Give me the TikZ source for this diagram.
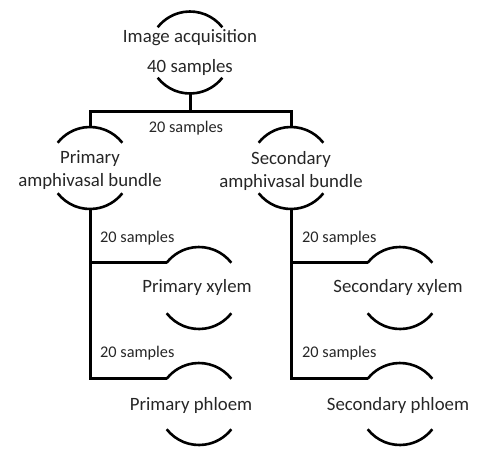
\documentclass[tikz,border=0pt]{standalone}
\usepackage{fontspec}
\setmainfont{Carlito}
\begin{document}
\begin{tikzpicture}[x=1pt,y=-1pt,
  lbl/.style={inner sep=0pt,font=\fontsize{18.8}{23}\selectfont,align=center,text=black!85},
  smp/.style={inner sep=0pt,font=\fontsize{16.3}{19}\selectfont,text=black!85},
  arcline/.style={line width=2.6pt},
  conn/.style={line width=3pt}]
\useasboundingbox (0,0) rectangle (477,448);
% arc pair around a centre
\newcommand{\arcpair}[1]{%
  \draw[arcline] ([shift={(38:41pt)}]#1) arc (38:142:41pt);
  \draw[arcline] ([shift={(218:41pt)}]#1) arc (218:322:41pt);
  \coordinate (#1top) at ([shift={(90:41pt)}]#1);
  \coordinate (#1bot) at ([shift={(270:41pt)}]#1);
  \coordinate (#1left) at ([shift={(142:41pt)}]#1);}
% centres
\coordinate (c0) at (190,52.5);
\coordinate (c1) at (90,168);
\coordinate (c2) at (291,168);
\coordinate (c3) at (199,288);
\coordinate (c4) at (199,404);
\coordinate (c5) at (400,288);
\coordinate (c6) at (400,404);
\arcpair{c0}\arcpair{c1}\arcpair{c2}\arcpair{c3}\arcpair{c4}\arcpair{c5}\arcpair{c6}
% texts
\node[lbl] (t0a) at (190,38) {Image acquisition};
\node[lbl] (t0b) at (190,67) {40 samples};
\node[lbl] (t1) at (90,170.5) {Primary\\amphivasal bundle};
\node[lbl] (t2) at (291,170.5) {Secondary\\amphivasal bundle};
\node[lbl] (t3) at (197,287) {Primary xylem};
\node[lbl] (t4) at (191,405) {Primary phloem};
\node[lbl] (t5) at (398,287) {Secondary xylem};
\node[lbl] (t6) at (398,405) {Secondary phloem};
% sample labels
\node[smp] (s0) at (186,128) {20 samples};
\node[smp,anchor=west] (s1) at (100,238) {20 samples};
\node[smp,anchor=west] (s2) at (100,353) {20 samples};
\node[smp,anchor=west] (s3) at (302,238) {20 samples};
\node[smp,anchor=west] (s4) at (302,353) {20 samples};
% connectors
\coordinate (j0) at (190,111);
\draw[conn] (c0bot) -- (j0);
\draw[conn] (c1top) |- (j0) -| (c2top);
\draw[conn] (c1bot) |- (c3left);
\draw[conn] (c1bot) |- (c4left);
\draw[conn] (c2bot) |- (c5left);
\draw[conn] (c2bot) |- (c6left);
\end{tikzpicture}
\end{document}
